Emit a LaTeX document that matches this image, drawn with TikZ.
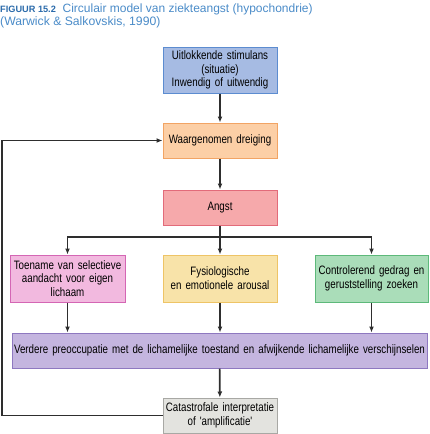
\documentclass[tikz,border=0pt]{standalone}
\usepackage{fontspec}
\setmainfont{Liberation Sans}
\newfontfamily\boxfont[FakeStretch=0.8, WordSpace=0.7]{Liberation Sans}
\usetikzlibrary{arrows.meta}

\definecolor{titleblue}{HTML}{4A8BC8}
\definecolor{figblue}{HTML}{2A6AAA}
\definecolor{linegrey}{HTML}{2E2E2E}
\definecolor{stimfill}{HTML}{A6BBE3}
\definecolor{stimline}{HTML}{5C8CD0}
\definecolor{threatfill}{HTML}{FCCFA6}
\definecolor{threatline}{HTML}{F2A464}
\definecolor{fearfill}{HTML}{F6A9AB}
\definecolor{fearline}{HTML}{E26B7A}
\definecolor{attfill}{HTML}{F2B9DF}
\definecolor{attline}{HTML}{D466B4}
\definecolor{arofill}{HTML}{F8E3A9}
\definecolor{aroline}{HTML}{EEC466}
\definecolor{checkfill}{HTML}{AADDB9}
\definecolor{checkline}{HTML}{5DB97A}
\definecolor{preofill}{HTML}{C4B5DF}
\definecolor{preoline}{HTML}{8E78C0}
\definecolor{catfill}{HTML}{E3E3DF}
\definecolor{catline}{HTML}{A8A8A4}

\tikzset{
  stage/.style={draw, line width=1pt, minimum width=114pt, text width=112pt,
    inner sep=0pt, align=center, font=\boxfont\fontsize{12.2}{13.8}\selectfont},
  flow/.style={line width=1.7pt, draw=linegrey, -{Latex[length=6pt,width=5pt]}}
}

\begin{document}
\begin{tikzpicture}[x=1pt, y=-1pt]
\useasboundingbox (0,0) rectangle (429,434);

\node[anchor=base west, inner sep=0pt, font=\fontsize{12}{13.5}\selectfont, text=titleblue] (title) at (0,12)
  {{\color{figblue}\fontsize{9.2}{10}\selectfont\bfseries FIGUUR 15.2}\ \ Circulair model van ziekteangst (hypochondrie)};
\node[anchor=base west, inner sep=0pt, font=\fontsize{12.2}{13.5}\selectfont, text=titleblue] (source) at (0,25.5)
  {(Warwick \& Salkovskis, 1990)};

\node[stage, fill=stimfill, draw=stimline, minimum height=46pt] (stimulus) at (220,70)
  {Uitlokkende stimulans\\(situatie)\\Inwendig of uitwendig};
\node[stage, fill=threatfill, draw=threatline, minimum height=35pt] (threat) at (220,140.5)
  {Waargenomen dreiging};
\node[stage, fill=fearfill, draw=fearline, minimum height=35pt] (fear) at (220,207.5)
  {Angst};

\node[stage, fill=attfill, draw=attline, minimum width=115pt, minimum height=47pt] (attention) at (67.5,278.5)
  {Toename van selectieve\\aandacht voor eigen\\lichaam};
\node[stage, fill=arofill, draw=aroline, minimum height=47pt] (arousal) at (220,278.5)
  {Fysiologische\\en emotionele arousal};
\node[stage, fill=checkfill, draw=checkline, minimum width=113pt, minimum height=47pt] (checking) at (371.5,278.5)
  {Controlerend gedrag en\\geruststelling zoeken};

\node[stage, fill=preofill, draw=preoline, minimum width=415pt, text width=413pt, minimum height=35pt] (preoccupation) at (219.5,350.5)
  {Verdere preoccupatie met de lichamelijke toestand en afwijkende lichamelijke verschijnselen};
\node[stage, fill=catfill, draw=catline, minimum height=35pt] (catastrophe) at (220,415.5)
  {Catastrofale interpretatie\\of 'amplificatie'};

\coordinate (split) at (220,237);
\coordinate (back) at (2,0);

\draw[flow] (stimulus) -- (threat);
\draw[flow] (threat) -- (fear);
\draw[flow] (fear) -- (arousal);
\draw[flow] (split) -| (attention);
\draw[flow] (split) -| (checking);
\draw[flow] (attention) -- (attention |- preoccupation.north);
\draw[flow] (arousal) -- (arousal |- preoccupation.north);
\draw[flow] (checking) -- (checking |- preoccupation.north);
\draw[flow] (preoccupation) -- (catastrophe);
\draw[flow] (catastrophe.west) -- (catastrophe.west -| back) |- (threat.west);
\end{tikzpicture}
\end{document}
